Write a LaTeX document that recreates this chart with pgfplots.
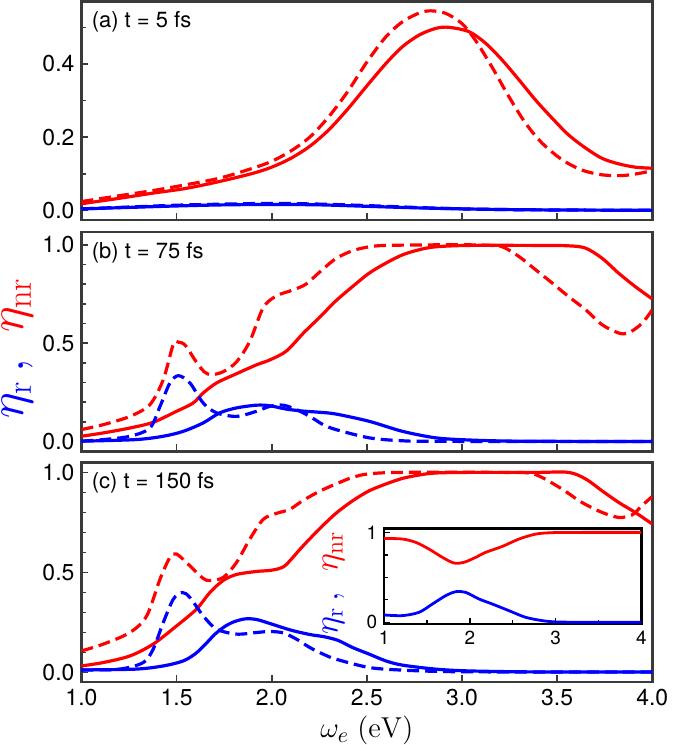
\documentclass[border=0pt]{standalone}
\usepackage[no-math]{fontspec}
\setmainfont{TeX Gyre Heros}
\usepackage{pgfplots}
\pgfplotsset{compat=1.18}
\definecolor{framec}{HTML}{3A3A3A}
\tikzset{plab/.style={anchor=north west, inner sep=0pt, font=\fontsize{11}{13}\selectfont}}
\pgfplotsset{
  panel/.style={
    scale only axis, width=286pt, height=110pt,
    clip mode=individual,
    xmin=1, xmax=4,
    xtick={1,1.5,2,2.5,3,3.5,4},
    xtick pos=bottom, ytick pos=left,
    tick align=inside,
    major tick length=3.5pt, minor tick length=2.2pt,
    axis line style={framec, line width=1.3pt},
    every tick/.style={framec, line width=0.8pt},
    tick label style={font=\fontsize{11.5}{13}\selectfont},
    /pgf/number format/assume math mode=true,
    xticklabel style={/pgf/number format/.cd, fixed, fixed zerofill, precision=1},
    yticklabel style={/pgf/number format/.cd, fixed, fixed zerofill, precision=1},
  },
  rs/.style={red, line width=1.6pt, smooth},
  rd/.style={red, line width=1.6pt, smooth, dash pattern=on 6pt off 3pt},
  bs/.style={blue, line width=1.6pt, smooth},
  bd/.style={blue, line width=1.6pt, smooth, dash pattern=on 6pt off 3pt},
}
\begin{document}
\begin{tikzpicture}
% ---------------- panel (a)
\begin{axis}[panel, at={(0,0)}, anchor=north west, height=109.5pt,
  ymin=-0.026, ymax=0.571, ytick={0,0.2,0.4}, minor ytick={0.1,0.3,0.5},
  xticklabels={}]
\addplot[rs] coordinates {(1.0,0.018) (1.2,0.033) (1.375,0.047) (1.55,0.06) (1.727,0.079) (1.9,0.101) (2.0,0.118) (2.1,0.142) (2.2,0.175) (2.3,0.22) (2.4,0.277) (2.5,0.34) (2.6,0.401) (2.687,0.447) (2.775,0.479) (2.862,0.497) (2.93,0.5) (3.037,0.488) (3.125,0.456) (3.212,0.41) (3.3,0.356) (3.387,0.301) (3.475,0.251) (3.56,0.206) (3.65,0.17) (3.736,0.142) (3.823,0.127) (3.91,0.118) (4.0,0.115)};
\addplot[rd] coordinates {(1.0,0.024) (1.2,0.04) (1.375,0.054) (1.55,0.07) (1.727,0.088) (1.9,0.115) (2.0,0.134) (2.1,0.162) (2.2,0.2) (2.3,0.256) (2.4,0.325) (2.5,0.405) (2.6,0.474) (2.687,0.515) (2.775,0.539) (2.835,0.545) (2.915,0.538) (3.0,0.51) (3.07,0.465) (3.157,0.392) (3.247,0.31) (3.334,0.238) (3.422,0.183) (3.527,0.138) (3.63,0.11) (3.736,0.097) (3.84,0.095) (3.92,0.1) (4.0,0.108)};
\addplot[bs] coordinates {(1.0,0.004) (1.25,0.008) (1.5,0.012) (1.75,0.015) (2.0,0.016) (2.25,0.015) (2.5,0.011) (2.75,0.007) (3.0,0.004) (3.25,0.002) (3.5,0.001) (4.0,0.0)};
\addplot[bd] coordinates {(1.0,0.004) (1.25,0.009) (1.5,0.014) (1.75,0.017) (2.0,0.019) (2.25,0.017) (2.5,0.013) (2.75,0.008) (3.0,0.004) (3.25,0.002) (3.5,0.001) (4.0,0.0)};
\node[plab] at ([xshift=5pt,yshift=-5pt]rel axis cs:0,1) {(a) t = 5 fs};
\end{axis}
% ---------------- panel (b)
\begin{axis}[panel, at={(0,-115.5pt)}, anchor=north west,
  ymin=-0.05, ymax=1.066, ytick={0,0.5,1}, minor ytick={0.1,0.2,0.3,0.4,0.6,0.7,0.8,0.9},
  xticklabels={}]
\addplot[rd] coordinates {(1.0,0.061) (1.115,0.086) (1.255,0.128) (1.36,0.188) (1.43,0.315) (1.483,0.495) (1.51,0.505) (1.545,0.49) (1.6,0.41) (1.645,0.355) (1.683,0.34) (1.745,0.355) (1.815,0.405) (1.885,0.51) (1.955,0.68) (2.024,0.74) (2.11,0.77) (2.18,0.80) (2.25,0.86) (2.337,0.93) (2.425,0.97) (2.512,0.99) (2.6,0.997) (2.862,1.0) (3.037,1.0) (3.125,0.998) (3.212,0.99) (3.3,0.94) (3.387,0.873) (3.475,0.805) (3.56,0.737) (3.65,0.67) (3.736,0.594) (3.823,0.552) (3.875,0.552) (3.945,0.60) (4.0,0.67)};
\addplot[rs] coordinates {(1.0,0.027) (1.115,0.044) (1.255,0.069) (1.377,0.098) (1.5,0.154) (1.587,0.196) (1.64,0.247) (1.71,0.298) (1.815,0.345) (1.92,0.39) (1.99,0.415) (2.077,0.46) (2.165,0.55) (2.25,0.63) (2.337,0.715) (2.425,0.788) (2.512,0.856) (2.6,0.907) (2.687,0.949) (2.775,0.975) (2.862,0.99) (3.037,0.997) (3.387,0.997) (3.56,0.995) (3.65,0.983) (3.736,0.932) (3.823,0.856) (3.91,0.788) (4.0,0.725)};
\addplot[bd] coordinates {(1.0,0.002) (1.115,0.01) (1.255,0.027) (1.36,0.069) (1.413,0.179) (1.465,0.298) (1.51,0.335) (1.57,0.298) (1.64,0.196) (1.71,0.146) (1.815,0.128) (1.92,0.154) (1.99,0.179) (2.06,0.185) (2.13,0.162) (2.2,0.128) (2.27,0.086) (2.337,0.061) (2.512,0.019) (2.687,0.004) (2.9,0.001) (4.0,0.0)};
\addplot[bs] coordinates {(1.0,0.002) (1.285,0.01) (1.43,0.027) (1.535,0.052) (1.64,0.095) (1.727,0.146) (1.815,0.171) (1.92,0.185) (1.99,0.182) (2.077,0.165) (2.165,0.155) (2.25,0.149) (2.337,0.14) (2.512,0.103) (2.687,0.052) (2.862,0.019) (3.037,0.008) (3.3,0.002) (4.0,0.0)};
\node[plab] at ([xshift=5pt,yshift=-5pt]rel axis cs:0,1) {(b) t = 75 fs};
\node[rotate=90, inner sep=1pt, font=\fontsize{24}{26}\selectfont] at (axis description cs:-0.112,0.47)
  {$\textcolor{blue}{\eta_{\mathrm{r}}\,,}\ \ \textcolor{red}{\eta_{\mathrm{nr}}}$};
\end{axis}
% ---------------- panel (c)
\begin{axis}[panel, at={(0,-231pt)}, anchor=north west,
  ymin=-0.047, ymax=1.05, ytick={0,0.5,1}, minor ytick={0.1,0.2,0.3,0.4,0.6,0.7,0.8,0.9},
  xlabel={$\omega_e\ (\mathrm{eV})$},
  xlabel style={font=\fontsize{15}{17}\selectfont, inner sep=0pt,
    at={(axis description cs:0.5,0)}, anchor=base, yshift=-28pt}]
\addplot[rd] coordinates {(1.0,0.108) (1.115,0.142) (1.255,0.20) (1.343,0.283) (1.413,0.467) (1.465,0.575) (1.5,0.592) (1.57,0.533) (1.64,0.47) (1.675,0.46) (1.745,0.475) (1.815,0.55) (1.885,0.667) (1.955,0.765) (2.024,0.795) (2.094,0.815) (2.165,0.86) (2.25,0.905) (2.337,0.942) (2.425,0.975) (2.512,0.993) (2.687,1.0) (3.2,1.0) (3.35,0.997) (3.42,0.975) (3.525,0.917) (3.63,0.85) (3.736,0.80) (3.823,0.775) (3.893,0.787) (3.945,0.833) (4.0,0.88)};
\addplot[rs] coordinates {(1.0,0.033) (1.115,0.05) (1.255,0.083) (1.377,0.142) (1.5,0.233) (1.605,0.317) (1.675,0.40) (1.745,0.46) (1.815,0.49) (1.92,0.505) (1.99,0.51) (2.04,0.52) (2.077,0.54) (2.165,0.633) (2.25,0.717) (2.337,0.795) (2.425,0.858) (2.512,0.908) (2.6,0.942) (2.687,0.97) (2.775,0.987) (2.862,0.997) (3.037,1.0) (3.387,1.0) (3.56,1.0) (3.65,0.967) (3.736,0.908) (3.823,0.85) (3.91,0.80) (4.0,0.742)};
\addplot[bd] coordinates {(1.0,0.013) (1.2,0.017) (1.325,0.05) (1.377,0.117) (1.43,0.25) (1.483,0.367) (1.53,0.40) (1.57,0.375) (1.64,0.283) (1.71,0.217) (1.815,0.192) (1.92,0.20) (1.99,0.205) (2.06,0.198) (2.13,0.167) (2.2,0.125) (2.27,0.092) (2.337,0.067) (2.512,0.025) (2.687,0.012) (2.9,0.005) (3.2,0.003) (4.0,0.003)};
\addplot[bs] coordinates {(1.0,0.013) (1.285,0.017) (1.43,0.033) (1.535,0.058) (1.6,0.095) (1.65,0.14) (1.7,0.19) (1.75,0.228) (1.8,0.253) (1.86,0.268) (1.92,0.265) (2.0,0.242) (2.1,0.212) (2.2,0.19) (2.28,0.178) (2.35,0.16) (2.425,0.125) (2.512,0.092) (2.6,0.058) (2.687,0.037) (2.862,0.017) (3.037,0.008) (3.4,0.003) (4.0,0.003)};
\node[plab] at ([xshift=5pt,yshift=-5pt]rel axis cs:0,1) {(c) t = 150 fs};
\end{axis}
% ---------------- inset
\begin{axis}[scale only axis, width=128.9pt, height=47.9pt,
  clip mode=individual,
  at={(151.65pt,-312pt)}, anchor=south west,
  axis background/.style={fill=white},
  xmin=1, xmax=4, ymin=-0.02, ymax=1.044,
  xtick={1,2,3,4}, minor xtick={1.5,2.5,3.5},
  ytick={0,1}, minor ytick={0.25,0.5,0.75},
  xtick pos=bottom, ytick pos=left, tick align=inside,
  major tick length=3pt, minor tick length=2pt,
  axis line style={black, line width=1.2pt},
  every tick/.style={black, line width=0.7pt},
  tick label style={font=\fontsize{9.5}{11}\selectfont},
  /pgf/number format/assume math mode=true]
\addplot[red, line width=1.4pt, smooth] coordinates {(1.0,0.933) (1.214,0.926) (1.369,0.889) (1.524,0.814) (1.68,0.722) (1.815,0.659) (1.931,0.667) (2.067,0.722) (2.184,0.778) (2.378,0.844) (2.572,0.926) (2.766,0.981) (2.96,0.997) (3.3,1.0) (4.0,1.0)};
\addplot[blue, line width=1.4pt, smooth] coordinates {(1.0,0.081) (1.214,0.074) (1.408,0.111) (1.563,0.203) (1.718,0.296) (1.835,0.34) (1.95,0.333) (2.106,0.259) (2.261,0.203) (2.455,0.129) (2.65,0.055) (2.844,0.018) (3.0,0.004) (3.3,0.0) (4.0,0.0)};
\node[rotate=90, inner sep=0pt, font=\fontsize{18.5}{20}\selectfont] at (axis description cs:-0.197,0.43)
  {$\textcolor{blue}{\eta_{\mathrm{r}}\,,}\ \ \textcolor{red}{\eta_{\mathrm{nr}}}$};
\end{axis}
\end{tikzpicture}
\end{document}
